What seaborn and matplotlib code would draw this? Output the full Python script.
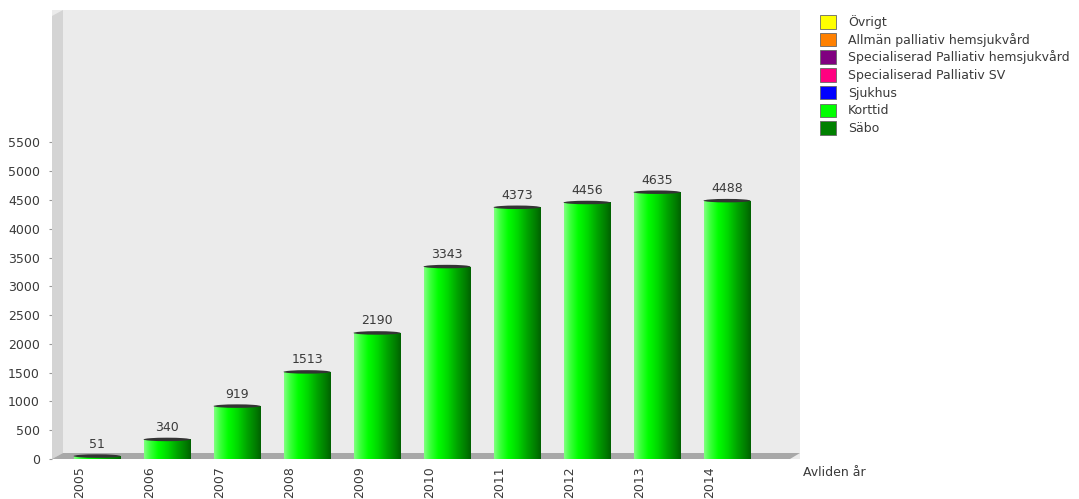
import matplotlib
matplotlib.use("Agg")
import matplotlib.pyplot as plt
import matplotlib.transforms as mtransforms
from matplotlib.patches import Polygon, Ellipse, Patch
import numpy as np
import pandas as pd
import seaborn as sns

years = ["2005", "2006", "2007", "2008", "2009", "2010", "2011", "2012", "2013", "2014"]
korttid = [51, 340, 919, 1513, 2190, 3343, 4373, 4456, 4635, 4488]
yticks = [0, 500, 1000, 1500, 2000, 2500, 3000, 3500, 4000, 4500, 5000, 5500]
legend_labels = ["Övrigt", "Allmän palliativ hemsjukvård", "Specialiserad Palliativ hemsjukvård",
                 "Specialiserad Palliativ SV", "Sjukhus", "Korttid", "Säbo"]
legend_colors = ["#ffff00", "#ff8000", "#800080", "#ff0080", "#0000ff", "#00ff00", "#008000"]

sns.set_style("white")
plt.rcParams["font.family"] = ["DejaVu Sans"]

FS = 9
TXT = "#3a3a3a"
W, H = 1079, 499
fig = plt.figure(figsize=(W / 100, H / 100), dpi=100)
L, R, T, B = 52, 800, 10, 459
ax = fig.add_axes([L / W, 1 - B / H, (R - L) / W, (B - T) / H])
ax.set_facecolor("#ebebeb")

df = pd.DataFrame({"year": years, "value": korttid})
sns.barplot(data=df, x="year", y="value", ax=ax, color="#00ff00", width=0.67,
            saturation=1, edgecolor="none", zorder=3)

YMAX = 7800
XMIN = (L - 97) / 70
XMAX = (R - 97) / 70

def fx(px):
    return (px - L) / (R - L)

def fy(py):
    return (B - py) / (B - T)

# side wall and floor
side = Polygon([(fx(52), fy(16)), (fx(63), fy(10)), (fx(63), fy(453)), (fx(52), fy(459))],
               closed=True, transform=ax.transAxes, facecolor="#d4d4d4", edgecolor="none", zorder=1)
floor = Polygon([(fx(52), fy(459)), (fx(790), fy(459)), (fx(800), fy(453)), (fx(63), fy(453))],
                closed=True, transform=ax.transAxes, facecolor="#a8a8a8", edgecolor="none", zorder=2)
ax.add_patch(side)
ax.add_patch(floor)

# cylinder gradient
grad_cols = np.array([
    [0.50, 1.00, 0.50],
    [0.25, 1.00, 0.25],
    [0.00, 1.00, 0.00],
    [0.00, 0.85, 0.00],
    [0.00, 0.65, 0.00],
    [0.00, 0.48, 0.00],
    [0.00, 0.38, 0.00],
])
stops = np.array([0.0, 0.12, 0.3, 0.5, 0.7, 0.9, 1.0])
xs = np.linspace(0, 1, 128)
img = np.stack([np.interp(xs, stops, grad_cols[:, c]) for c in range(3)], axis=-1)[None, :, :]

for p in list(ax.patches):
    if isinstance(p, Polygon):
        continue
    x0 = p.get_x()
    w = p.get_width()
    h = p.get_height()
    if w <= 0 or h <= 0:
        continue
    im = ax.imshow(img, extent=[x0, x0 + w, 0, h], aspect="auto", zorder=4, interpolation="bilinear")
    im.set_clip_path(p)
    cap_h = 3.5 / (B - T) * YMAX
    ax.add_patch(Ellipse((x0 + w / 2, h), w, cap_h, facecolor="#333333", edgecolor="none", zorder=5))
    ax.annotate(f"{int(round(h))}", (x0 + w / 2, h), xytext=(0, 4), textcoords="offset points",
                ha="center", va="bottom", fontsize=FS, color=TXT, zorder=6)

ax.set_xlim(XMIN, XMAX)
ax.set_ylim(0, YMAX)
ax.set_yticks(yticks)
ax.set_yticklabels([str(v) for v in yticks])
ax.set_xlabel("")
ax.set_ylabel("")
for s in ax.spines.values():
    s.set_visible(False)

ax.tick_params(axis="y", left=True, length=2.5, width=0.8, color="#999999", pad=6.2,
               labelsize=FS, labelcolor=TXT)
ax.tick_params(axis="x", bottom=False, length=0, pad=5, labelsize=FS, labelcolor=TXT)
for lbl in ax.get_xticklabels():
    lbl.set_rotation(90)
    lbl.set_va("top")
    lbl.set_ha("center")
    lbl.set_transform(lbl.get_transform() + mtransforms.ScaledTranslation(-17 / 100, 0, fig.dpi_scale_trans))

handles = [Patch(facecolor=c, edgecolor="#666666", linewidth=0.6) for c in legend_colors]
leg = fig.legend(handles, legend_labels, loc="upper left", bbox_to_anchor=(820 / W, 1 - 15 / H),
                 frameon=False, fontsize=FS, handlelength=1.28, handleheight=1.28,
                 labelspacing=0.30, handletextpad=0.95, borderaxespad=0, borderpad=0)
for t in leg.get_texts():
    t.set_color(TXT)

fig.text(803 / W, 1 - 472 / H, "Avliden år", ha="left", va="center", fontsize=FS, color=TXT)

fig.savefig("out.png", dpi=100)
